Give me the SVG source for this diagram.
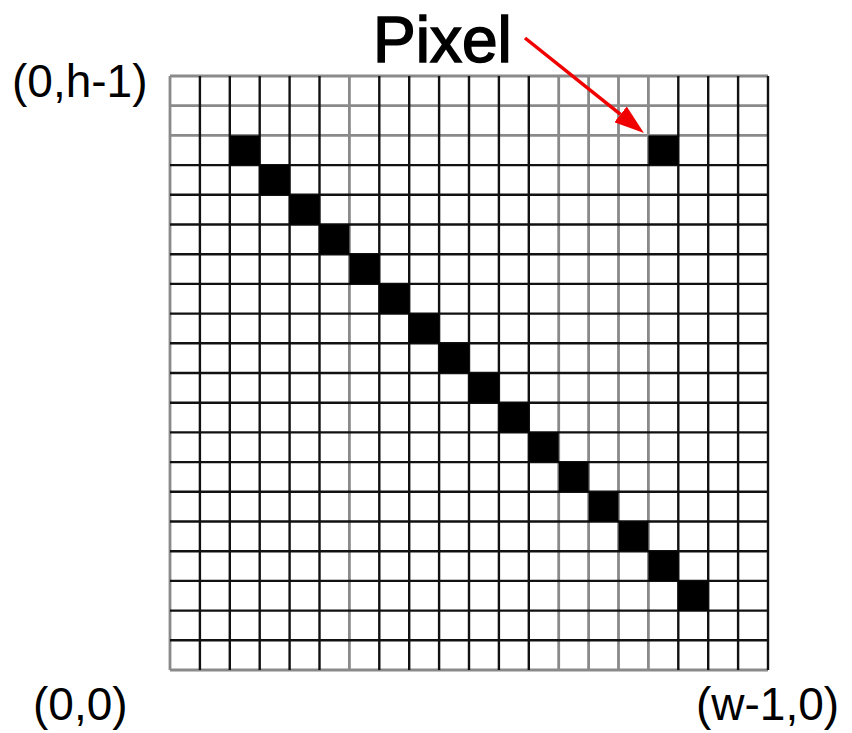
<svg xmlns="http://www.w3.org/2000/svg" width="852" height="733" viewBox="0 0 852 733">
<style>
.lbl{font-family:"Liberation Sans",Arial,sans-serif;font-size:46px;fill:#000}
.title{font-family:"Liberation Sans",Arial,sans-serif;font-size:64px;fill:#000;stroke:#000;stroke-width:1.6}
.gk{stroke:#111;stroke-width:2.4;fill:none}
.gg{stroke:#8a8a8a;stroke-width:2.8;fill:none}
.px{fill:#000}
</style>
<defs>
<marker id="ah" viewBox="0 0 30 20" refX="0" refY="10" markerWidth="30" markerHeight="20" markerUnits="userSpaceOnUse" orient="auto">
<path d="M0,0 L30,10 L0,20 Z" fill="#f00000"/>
</marker>
</defs>
<rect width="852" height="733" fill="#fff"/>
<g id="grid">
<path class="gg" d="M170,76V670M349.4,76V670M558.7,76V670M588.6,76V670M618.5,76V670M648.4,76V670M170,76H768M170,105.7H768M170,135.4H768M170,670H768"/>
<path class="gk" d="M199.9,76V670M229.8,76V670M259.7,76V670M289.6,76V670M319.5,76V670M379.3,76V670M409.2,76V670M439.1,76V670M469,76V670M498.9,76V670M528.8,76V670M678.3,76V670M708.2,76V670M738.1,76V670M768,76V670
M170,165.1H768M170,194.8H768M170,224.5H768M170,254.2H768M170,283.9H768M170,313.6H768M170,343.3H768M170,373H768M170,402.7H768M170,432.4H768M170,462.1H768M170,491.8H768M170,521.5H768M170,551.2H768M170,580.9H768M170,610.6H768M170,640.3H768"/>
</g>
<g id="pixels">
<rect class="px" x="229.8" y="135.4" width="29.9" height="29.7"/>
<rect class="px" x="259.7" y="165.1" width="29.9" height="29.7"/>
<rect class="px" x="289.6" y="194.8" width="29.9" height="29.7"/>
<rect class="px" x="319.5" y="224.5" width="29.9" height="29.7"/>
<rect class="px" x="349.4" y="254.2" width="29.9" height="29.7"/>
<rect class="px" x="379.3" y="283.9" width="29.9" height="29.7"/>
<rect class="px" x="409.2" y="313.6" width="29.9" height="29.7"/>
<rect class="px" x="439.1" y="343.3" width="29.9" height="29.7"/>
<rect class="px" x="469" y="373" width="29.9" height="29.7"/>
<rect class="px" x="498.9" y="402.7" width="29.9" height="29.7"/>
<rect class="px" x="528.8" y="432.4" width="29.9" height="29.7"/>
<rect class="px" x="558.7" y="462.1" width="29.9" height="29.7"/>
<rect class="px" x="588.6" y="491.8" width="29.9" height="29.7"/>
<rect class="px" x="618.5" y="521.5" width="29.9" height="29.7"/>
<rect class="px" x="648.4" y="551.2" width="29.9" height="29.7"/>
<rect class="px" x="678.3" y="580.9" width="29.9" height="29.7"/>
</g>
<g id="pixel-marked">
<rect class="px" x="648.4" y="135.4" width="29.9" height="29.7"/>
</g>
<g id="connectors">
<line x1="525" y1="38" x2="620.5" y2="114.3" stroke="#f00000" stroke-width="3.5" marker-end="url(#ah)"/>
</g>
<g id="label-pixel"><text class="title" x="373" y="62">Pixel</text></g>
<g id="label-top-left"><text class="lbl" x="12" y="97">(0,h-1)</text></g>
<g id="label-origin"><text class="lbl" x="33" y="720">(0,0)</text></g>
<g id="label-bottom-right"><text class="lbl" x="696" y="720">(w-1,0)</text></g>
</svg>
